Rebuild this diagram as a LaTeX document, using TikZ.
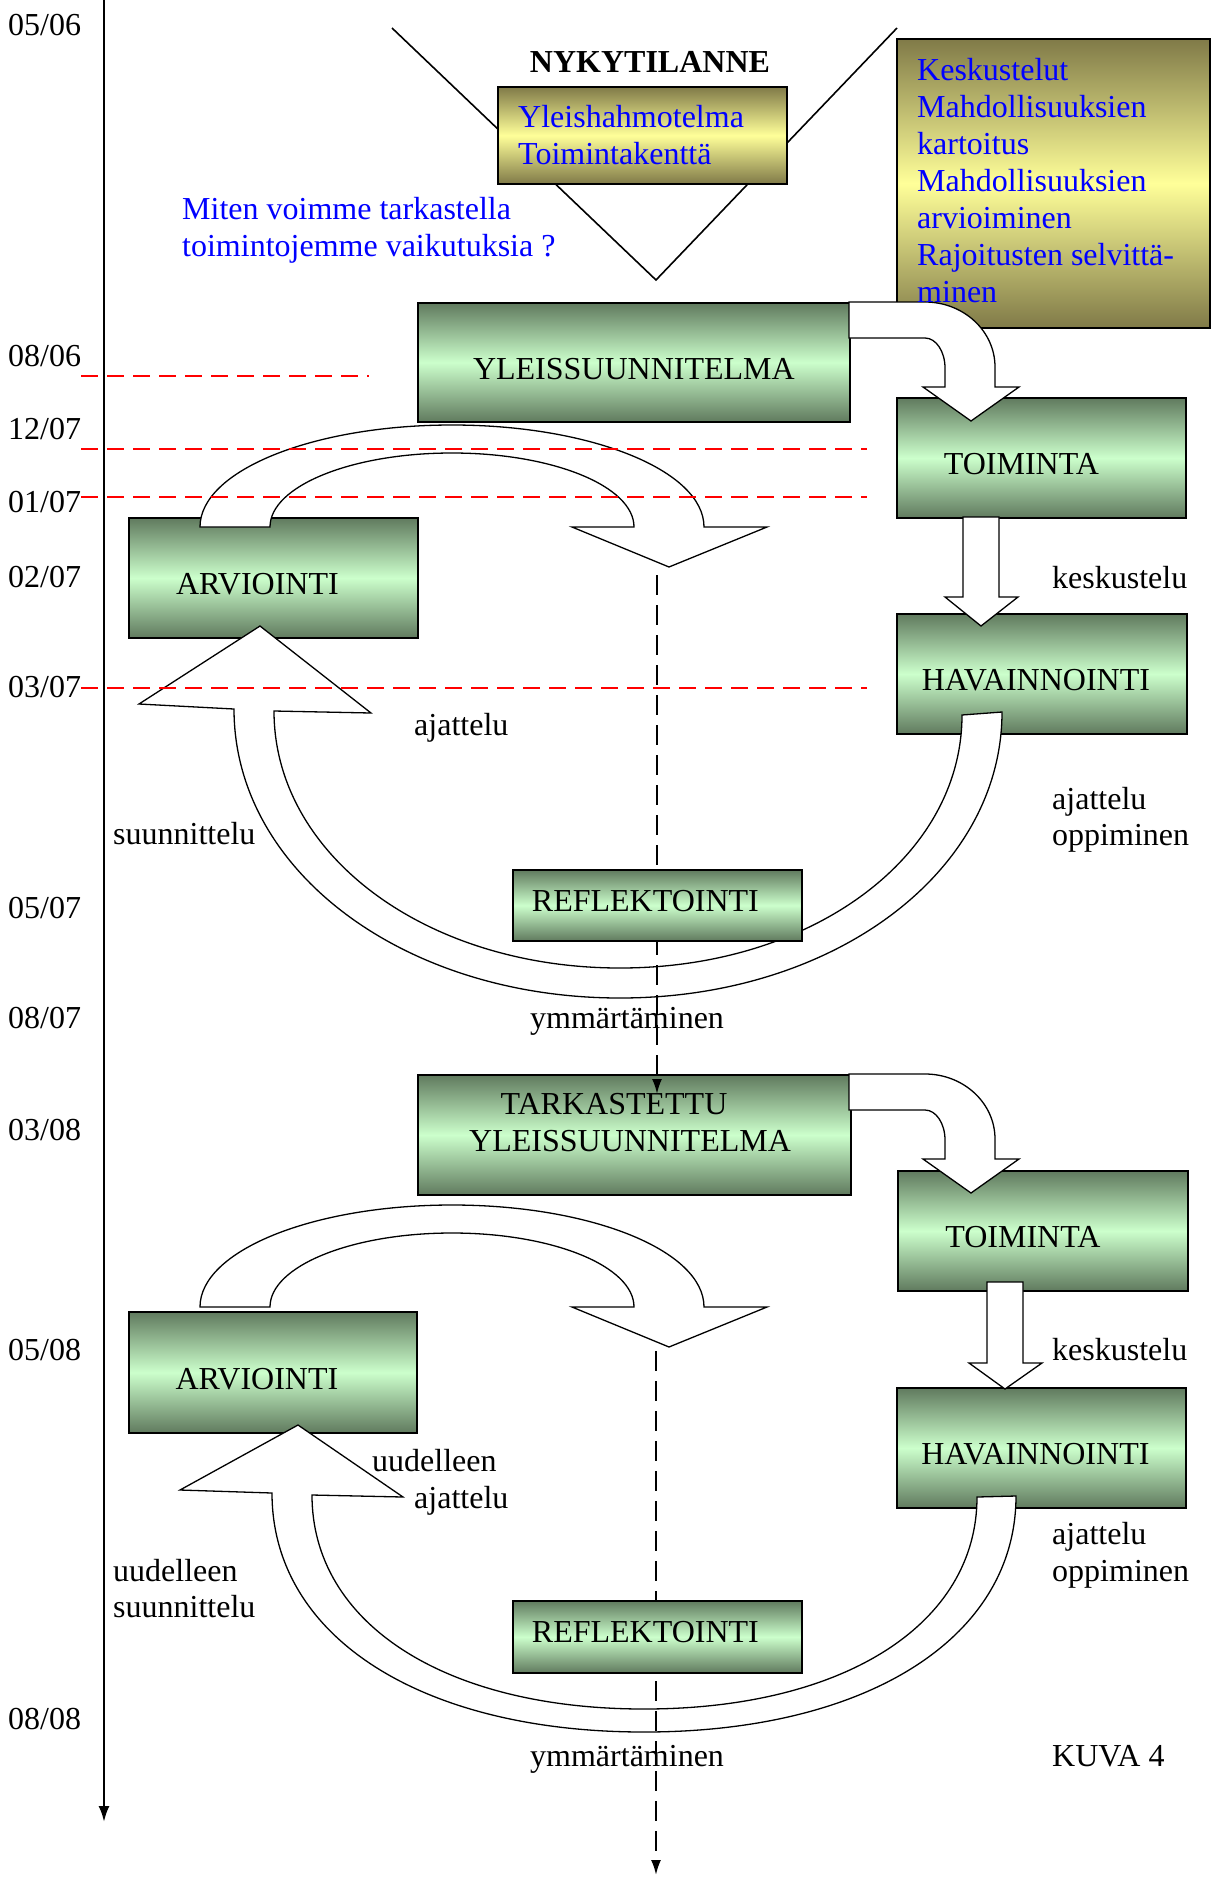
\documentclass[tikz,border=0pt]{standalone}
\usepackage{fontspec}
\setmainfont{Liberation Serif}
\usetikzlibrary{arrows.meta}
\definecolor{gdark}{RGB}{96,122,94}
\definecolor{glight}{RGB}{204,255,204}
\definecolor{ydark}{RGB}{128,122,72}
\definecolor{ylight}{RGB}{255,255,153}
\definecolor{bluetxt}{RGB}{0,0,255}
\newcommand\fsz{\fontsize{32}{37}\selectfont}
\begin{document}
\begin{tikzpicture}[x=1pt,y=-1pt,
  gbox/.style={draw=black, line width=1.8pt, top color=gdark, bottom color=gdark, middle color=glight, anchor=north west, inner sep=0pt, font=\fsz, text height=34pt, text depth=0pt},
  rbox/.style={gbox, text height=22pt, text depth=10pt},
  ybox/.style={draw=black, line width=1.8pt, top color=ydark, bottom color=ydark, middle color=ylight, anchor=north west, inner sep=0pt},
  blk/.style={draw=black, fill=white, line width=1.3pt, line join=miter},
  lbl/.style={font=\fsz, inner sep=0pt, anchor=west, text height=22pt, text depth=0pt},
  bl/.style={lbl, text=bluetxt},
  reddash/.style={draw=red, line width=2pt, dash pattern=on 17pt off 9pt},
  blackdash/.style={draw=black, line width=2pt, dash pattern=on 20pt off 10pt, -{Latex[length=15pt,width=10pt]}},
]
\useasboundingbox (0,0) rectangle (1216,1877);

% ---------- top: V and yellow boxes
\coordinate (vl) at (392,28);
\coordinate (vapex) at (656,280);
\coordinate (vr) at (897,28);
\draw[line width=1.6pt] (vl) -- (vapex) -- (vr);
\node[ybox, minimum width=289pt, minimum height=97pt] (nyky) at (497,86) {};
\node[ybox, minimum width=313pt, minimum height=289pt] (ybig) at (896,38) {};

% ---------- green boxes
\node[gbox, minimum width=432pt, minimum height=119pt] (yleis1) at (417,302) {YLEISSUUNNITELMA};
\node[gbox, minimum width=289pt, minimum height=120pt] (toim1) at (896,397) {TOIMINTA\hspace*{40pt}};
\node[gbox, minimum width=289pt, minimum height=120pt] (arv1) at (128,517) {ARVIOINTI\hspace*{32pt}};
\node[gbox, minimum width=290pt, minimum height=120pt] (hav1) at (896,613) {HAVAINNOINTI\hspace*{12pt}};
\node[gbox, minimum width=433pt, minimum height=120pt] (tark) at (417,1074) {};
\node[gbox, minimum width=290pt, minimum height=120pt] (toim2) at (897,1170) {TOIMINTA\hspace*{40pt}};
\node[gbox, minimum width=288pt, minimum height=121pt] (arv2) at (128,1311) {ARVIOINTI\hspace*{32pt}};
\node[gbox, minimum width=289pt, minimum height=120pt] (hav2) at (896,1387) {HAVAINNOINTI\hspace*{12pt}};

% ---------- block arrows
% bent arrows plan -> action
\foreach \dy in {0,772}{
\begin{scope}[shift={(0,\dy)}]
\draw[blk] (849,302) -- (925,302) .. controls (963.7,302) and (995,331.1) .. (995,367) -- (995,387) -- (1019,387) -- (971,421) -- (923,387) -- (945,387) -- (945,368) .. controls (945,351.4) and (936,338) .. (925,338) -- (849,338) -- cycle;
\end{scope}}
% straight arrows action -> observation
\draw[blk] (963,517) -- (963,597) -- (945,597) -- (981,626) -- (1018,597) -- (999,597) -- (999,517) -- cycle;
\draw[blk] (987,1282) -- (987,1363) -- (969,1363) -- (1005,1389) -- (1042,1363) -- (1023,1363) -- (1023,1282) -- cycle;
% arc arrows from evaluation
\foreach \dy in {0,780}{
\begin{scope}[shift={(0,\dy)}]
\draw[blk] (200,527) .. controls (200,470.7) and (312.8,425) .. (452,425) .. controls (591.2,425) and (704,470.7) .. (704,527) -- (767,527) -- (669,567) -- (572,527) -- (634,527) .. controls (634,486.1) and (552.5,453) .. (452,453) .. controls (351.5,453) and (270,486.1) .. (270,527) -- cycle;
\end{scope}}
% U arrows observation -> evaluation
\draw[blk] (962,715) -- (1002,712) .. controls (1002,872) and (834,998) .. (620,998) .. controls (404,998) and (234,871) .. (234,709) -- (139,704) -- (260,626) -- (371,713) -- (274,711) .. controls (274,855) and (426,968) .. (620,968) .. controls (812,968) and (962,857) .. (962,715) -- cycle;
\draw[blk] (977,1497) -- (1016,1496) .. controls (1016,1637.6) and (867.2,1732) .. (644,1732) .. controls (420.8,1732) and (272,1636.4) .. (272,1493) -- (180,1490) -- (298,1425) -- (403,1497) -- (312,1495) .. controls (312,1623.4) and (444.8,1709) .. (644,1709) .. controls (843.8,1709) and (977,1624.2) .. (977,1497) -- cycle;

% ---------- red dashed date lines
\coordinate (r1a) at (81,376); \coordinate (r1b) at (369,376);
\coordinate (r2a) at (81,449); \coordinate (r2b) at (867,449);
\coordinate (r3a) at (81,497); \coordinate (r3b) at (867,497);
\coordinate (r4a) at (81,688); \coordinate (r4b) at (867,688);
\draw[reddash] (r1a) -- (r1b);
\draw[reddash] (r2a) -- (r2b);
\draw[reddash] (r3a) -- (r3b);
\draw[reddash] (r4a) -- (r4b);

% ---------- timeline
\coordinate (tl0) at (104,0);
\coordinate (tl1) at (104,1822);
\draw[line width=2.4pt, -{Latex[length=16pt,width=11pt]}] (tl0) -- (tl1);

% ---------- dashed understanding arrows
\coordinate (d1a) at (657,575);
\coordinate (d1b) at (657,1094);
\draw[blackdash] (d1a) -- (d1b);
\coordinate (d2a) at (656,1351);
\coordinate (d2b) at (656,1875);
\draw[blackdash] (d2a) -- (d2b);

% ---------- reflection boxes
\node[rbox, minimum width=289pt, minimum height=71pt] (refl1) at (512,869) {REFLEKTOINTI\hspace*{24pt}};
\node[rbox, minimum width=289pt, minimum height=72pt] (refl2) at (512,1600) {REFLEKTOINTI\hspace*{24pt}};

% ---------- texts
\node[lbl, anchor=center, font=\fsz\bfseries] (nykyT) at (650,61) {NYKYTILANNE};
\node[bl] (nyT1) at (518,116) {Yleishahmotelma};
\node[bl] (nyT2) at (518,153) {Toimintakenttä};
\node[bl] (q1) at (182,208) {Miten voimme tarkastella};
\node[bl] (q2) at (182,245) {toimintojemme vaikutuksia ?};
\node[bl] (yb1) at (917,69) {Keskustelut};
\node[bl] (yb2) at (917,106) {Mahdollisuuksien};
\node[bl] (yb3) at (917,143) {kartoitus};
\node[bl] (yb4) at (917,180) {Mahdollisuuksien};
\node[bl] (yb5) at (917,217) {arvioiminen};
\node[bl] (yb6) at (917,254) {Rajoitusten selvittä-};
\node[bl] (yb7) at (917,291) {minen};
\node[lbl, anchor=center] (tarkT1) at (614,1103) {TARKASTETTU};
\node[lbl] (tarkT2) at (469,1140) {YLEISSUUNNITELMA};

\node[lbl] (t1) at (8,24) {05/06};
\node[lbl] (t2) at (8,355) {08/06};
\node[lbl] (t3) at (8,428) {12/07};
\node[lbl] (t4) at (8,501) {01/07};
\node[lbl] (t5) at (8,576) {02/07};
\node[lbl] (t6) at (8,686) {03/07};
\node[lbl] (t7) at (8,907) {05/07};
\node[lbl] (t8) at (8,1017) {08/07};
\node[lbl] (t9) at (8,1129) {03/08};
\node[lbl] (t10) at (8,1349) {05/08};
\node[lbl] (t11) at (8,1718) {08/08};

\node[lbl] (k1) at (1052,577) {keskustelu};
\node[lbl] (aj1) at (414,724) {ajattelu};
\node[lbl] (su1) at (113,833) {suunnittelu};
\node[lbl] (ajr1) at (1052,798) {ajattelu};
\node[lbl] (op1) at (1052,834) {oppiminen};
\node[lbl] (ym1) at (530,1017) {ymmärtäminen};

\node[lbl] (k2) at (1052,1349) {keskustelu};
\node[lbl] (uu1) at (372,1460) {uudelleen};
\node[lbl] (aj2) at (414,1497) {ajattelu};
\node[lbl] (uu2) at (113,1570) {uudelleen};
\node[lbl] (su2) at (113,1606) {suunnittelu};
\node[lbl] (ajr2) at (1052,1533) {ajattelu};
\node[lbl] (op2) at (1052,1570) {oppiminen};
\node[lbl] (ym2) at (530,1755) {ymmärtäminen};
\node[lbl] (kuva) at (1052,1755) {KUVA 4};
\end{tikzpicture}
\end{document}
